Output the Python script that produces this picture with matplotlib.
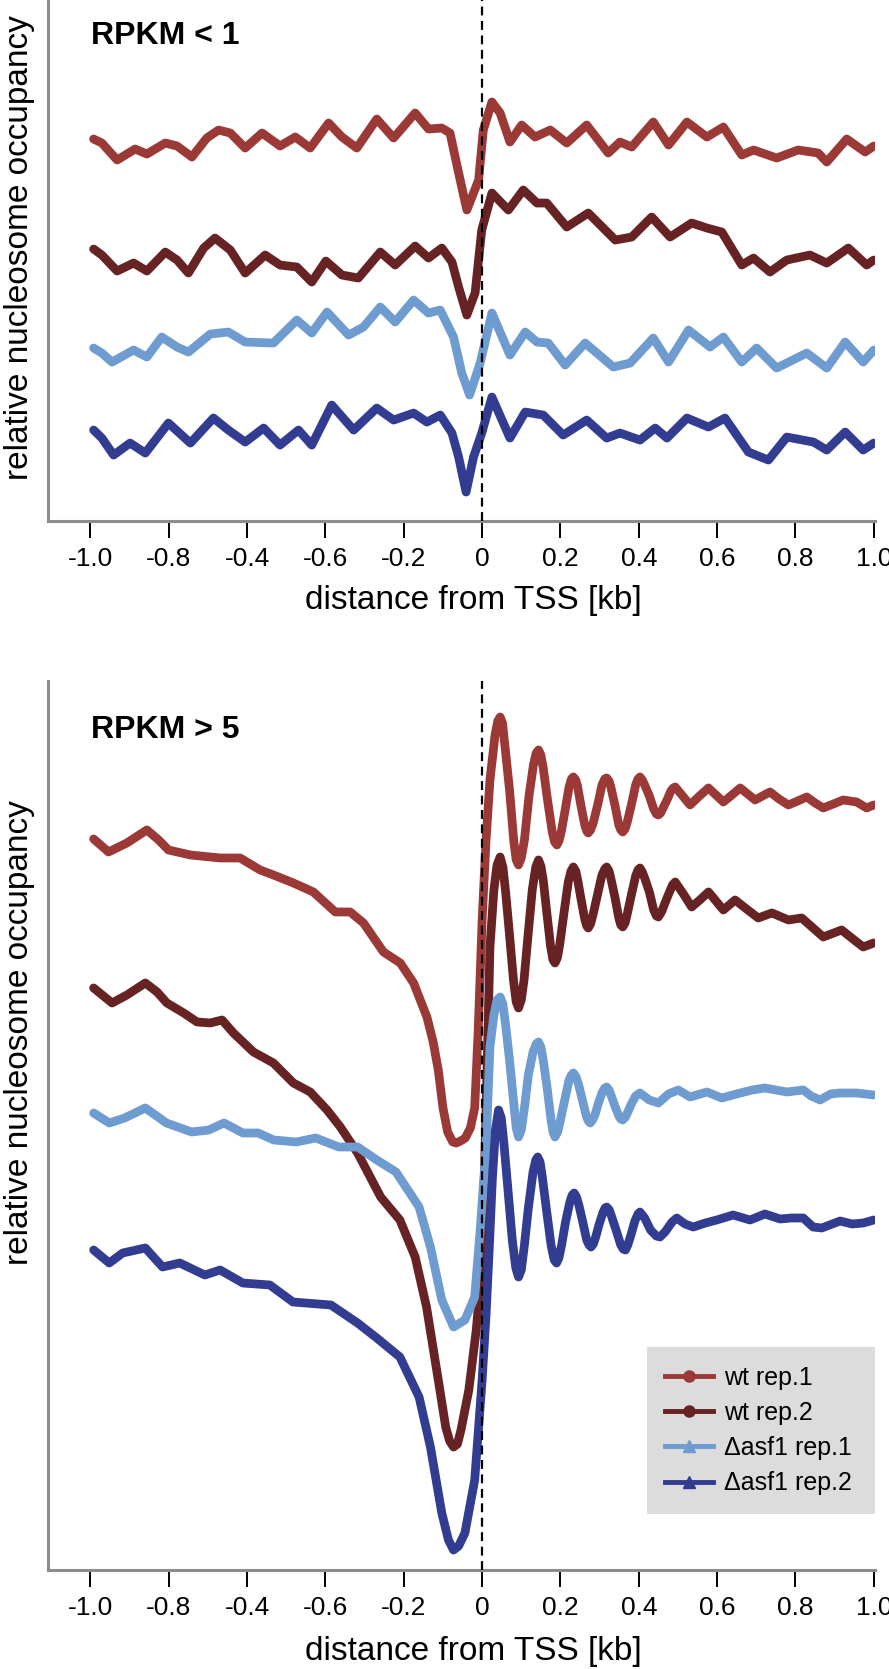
import matplotlib
matplotlib.use("Agg")
import matplotlib.pyplot as plt
from matplotlib.lines import Line2D

plt.rcParams['font.family'] = ['Liberation Sans', 'DejaVu Sans']

# series names and colours
nombres = ['wt rep.1', 'wt rep.2', 'Δasf1 rep.1', 'Δasf1 rep.2']
colores = ['#9b3937', '#672323', '#6e9bd0', '#323c91']
marcadores = ['o', 'o', '^', '^']

# x ticks (labels as printed in the original figure)
ticks = [-1.0, -0.8, -0.6, -0.4, -0.2, 0.0, 0.2, 0.4, 0.6, 0.8, 1.0]
tick_labels = ['-1.0', '-0.8', '-0.4', '-0.6', '-0.2', '0', '0.2', '0.4', '0.6', '0.8', '1.0']

# ---- RPKM < 1 (distance from TSS in kb, occupancy in arbitrary offset units)
up_x_wt1 = [-0.992, -0.971, -0.932, -0.886, -0.856, -0.809, -0.779, -0.741, -0.703, -0.673,
            -0.643, -0.605, -0.562, -0.516, -0.477, -0.439, -0.392, -0.358, -0.320, -0.269,
            -0.226, -0.171, -0.137, -0.103, -0.082, -0.060, -0.039, -0.009, 0.003, 0.025,
            0.046, 0.071, 0.101, 0.135, 0.174, 0.216, 0.267, 0.322, 0.352, 0.382,
            0.437, 0.476, 0.523, 0.574, 0.616, 0.663, 0.693, 0.752, 0.807, 0.858,
            0.880, 0.931, 0.978, 1.0]
up_y_wt1 = [3.82, 3.78, 3.61, 3.72, 3.67, 3.78, 3.75, 3.64, 3.83, 3.91,
            3.88, 3.73, 3.88, 3.75, 3.84, 3.73, 3.98, 3.84, 3.73, 4.02,
            3.83, 4.08, 3.92, 3.93, 3.88, 3.48, 3.11, 3.41, 3.91, 4.19,
            4.08, 3.79, 3.96, 3.84, 3.91, 3.78, 3.96, 3.68, 3.79, 3.74,
            3.99, 3.76, 3.99, 3.84, 3.94, 3.66, 3.71, 3.63, 3.71, 3.68,
            3.59, 3.82, 3.69, 3.75]

up_x_wt2 = [-0.992, -0.971, -0.932, -0.890, -0.856, -0.809, -0.779, -0.750, -0.711, -0.682,
            -0.643, -0.605, -0.554, -0.516, -0.473, -0.435, -0.399, -0.358, -0.316, -0.260,
            -0.222, -0.171, -0.137, -0.103, -0.077, -0.060, -0.039, -0.018, -0.001, 0.025,
            0.067, 0.105, 0.140, 0.165, 0.216, 0.271, 0.340, 0.382, 0.433, 0.480,
            0.535, 0.574, 0.612, 0.663, 0.693, 0.735, 0.778, 0.837, 0.880, 0.935,
            0.982, 1.0]
up_y_wt2 = [2.72, 2.66, 2.50, 2.58, 2.50, 2.69, 2.61, 2.48, 2.73, 2.83,
            2.71, 2.48, 2.66, 2.56, 2.54, 2.39, 2.60, 2.46, 2.43, 2.69,
            2.56, 2.75, 2.63, 2.73, 2.59, 2.34, 2.06, 2.28, 2.91, 3.28,
            3.11, 3.31, 3.18, 3.18, 2.94, 3.08, 2.81, 2.84, 3.04, 2.84,
            2.98, 2.93, 2.89, 2.56, 2.63, 2.49, 2.61, 2.66, 2.58, 2.73,
            2.56, 2.61]

up_x_ko1 = [-0.992, -0.971, -0.945, -0.890, -0.856, -0.818, -0.779, -0.750, -0.694, -0.648,
            -0.605, -0.533, -0.473, -0.435, -0.396, -0.341, -0.303, -0.260, -0.222, -0.175,
            -0.137, -0.107, -0.073, -0.052, -0.032, -0.005, 0.025, 0.071, 0.110, 0.140,
            0.169, 0.212, 0.263, 0.335, 0.378, 0.437, 0.476, 0.527, 0.582, 0.616,
            0.663, 0.701, 0.752, 0.829, 0.880, 0.927, 0.973, 1.0]
up_y_ko1 = [1.73, 1.68, 1.59, 1.71, 1.64, 1.84, 1.74, 1.69, 1.87, 1.89,
            1.79, 1.78, 2.01, 1.88, 2.09, 1.86, 1.94, 2.14, 1.99, 2.21,
            2.08, 2.11, 1.84, 1.48, 1.26, 1.58, 2.08, 1.66, 1.89, 1.79,
            1.78, 1.56, 1.78, 1.54, 1.58, 1.83, 1.59, 1.91, 1.74, 1.84,
            1.59, 1.73, 1.53, 1.68, 1.53, 1.79, 1.59, 1.71]

up_x_ko2 = [-0.992, -0.971, -0.941, -0.899, -0.860, -0.801, -0.745, -0.686, -0.648, -0.605,
            -0.558, -0.516, -0.469, -0.435, -0.384, -0.328, -0.269, -0.226, -0.175, -0.141,
            -0.107, -0.077, -0.060, -0.041, -0.022, -0.001, 0.025, 0.071, 0.110, 0.156,
            0.207, 0.267, 0.318, 0.352, 0.403, 0.442, 0.472, 0.523, 0.578, 0.620,
            0.680, 0.731, 0.778, 0.846, 0.880, 0.927, 0.973, 1.0]
up_y_ko2 = [0.91, 0.83, 0.66, 0.78, 0.68, 0.98, 0.78, 1.03, 0.91, 0.79,
            0.93, 0.76, 0.91, 0.76, 1.16, 0.91, 1.13, 1.01, 1.08, 0.99,
            1.06, 0.88, 0.64, 0.29, 0.64, 0.88, 1.24, 0.83, 1.09, 1.06,
            0.86, 1.01, 0.83, 0.88, 0.81, 0.93, 0.83, 1.03, 0.94, 1.03,
            0.69, 0.61, 0.84, 0.79, 0.71, 0.89, 0.71, 0.78]

# ---- RPKM > 5
low_x_wt1 = [-0.992, -0.954, -0.907, -0.856, -0.826, -0.801, -0.745, -0.669, -0.618, -0.567,
             -0.533, -0.482, -0.431, -0.375, -0.337, -0.303, -0.252, -0.209, -0.175, -0.141,
             -0.125, -0.112, -0.100, -0.088, -0.075, -0.066, -0.055, -0.043, -0.030, -0.019,
             -0.010, 0.0, 0.010, 0.020, 0.033, 0.040, 0.046, 0.052, 0.058, 0.070,
             0.081, 0.087, 0.093, 0.100, 0.108, 0.120, 0.131, 0.138, 0.144, 0.150,
             0.156, 0.167, 0.179, 0.185, 0.191, 0.197, 0.203, 0.212, 0.222, 0.228,
             0.233, 0.239, 0.243, 0.252, 0.262, 0.267, 0.271, 0.277, 0.283, 0.295,
             0.306, 0.313, 0.318, 0.324, 0.328, 0.339, 0.349, 0.354, 0.359, 0.365,
             0.370, 0.381, 0.392, 0.398, 0.403, 0.409, 0.415, 0.427, 0.438, 0.445,
             0.450, 0.456, 0.462, 0.472, 0.482, 0.488, 0.493, 0.512, 0.531, 0.555,
             0.578, 0.597, 0.616, 0.638, 0.659, 0.678, 0.697, 0.716, 0.735, 0.758,
             0.782, 0.806, 0.829, 0.850, 0.871, 0.897, 0.922, 0.956, 0.982, 1.0]
low_y_wt1 = [7.31, 7.18, 7.27, 7.40, 7.30, 7.20, 7.15, 7.12, 7.12, 7.00,
             6.95, 6.87, 6.78, 6.58, 6.58, 6.47, 6.18, 6.07, 5.87, 5.53,
             5.28, 5.00, 4.62, 4.38, 4.28, 4.27, 4.29, 4.32, 4.42, 4.62,
             5.40, 6.50, 7.30, 7.90, 8.35, 8.49, 8.53, 8.47, 8.25, 7.80,
             7.28, 7.10, 7.05, 7.12, 7.30, 7.75, 8.05, 8.17, 8.20, 8.15,
             8.02, 7.70, 7.38, 7.28, 7.25, 7.30, 7.40, 7.60, 7.83, 7.91,
             7.93, 7.90, 7.85, 7.65, 7.45, 7.39, 7.37, 7.40, 7.46, 7.65,
             7.85, 7.91, 7.92, 7.89, 7.84, 7.65, 7.45, 7.40, 7.38, 7.41,
             7.47, 7.65, 7.85, 7.91, 7.93, 7.90, 7.85, 7.74, 7.61, 7.56,
             7.55, 7.57, 7.62, 7.70, 7.79, 7.82, 7.83, 7.74, 7.65, 7.74,
             7.82, 7.75, 7.68, 7.75, 7.82, 7.76, 7.70, 7.74, 7.78, 7.71,
             7.65, 7.69, 7.73, 7.67, 7.62, 7.66, 7.70, 7.68, 7.62, 7.65]

low_x_wt2 = [-0.992, -0.945, -0.907, -0.860, -0.830, -0.805, -0.762, -0.728, -0.694, -0.664,
             -0.635, -0.584, -0.533, -0.482, -0.439, -0.396, -0.362, -0.318, -0.259, -0.210,
             -0.171, -0.142, -0.112, -0.093, -0.083, -0.073, -0.063, -0.054, -0.034, -0.015,
             0.0, 0.010, 0.020, 0.030, 0.038, 0.046, 0.053, 0.060, 0.070, 0.080,
             0.087, 0.093, 0.100, 0.107, 0.118, 0.128, 0.137, 0.144, 0.150, 0.156,
             0.165, 0.175, 0.181, 0.186, 0.192, 0.198, 0.210, 0.220, 0.227, 0.233,
             0.239, 0.244, 0.252, 0.262, 0.267, 0.271, 0.277, 0.283, 0.295, 0.306,
             0.313, 0.318, 0.324, 0.329, 0.339, 0.349, 0.354, 0.359, 0.365, 0.370,
             0.381, 0.392, 0.398, 0.403, 0.409, 0.415, 0.427, 0.438, 0.445, 0.450,
             0.458, 0.472, 0.486, 0.493, 0.514, 0.535, 0.556, 0.578, 0.597, 0.616,
             0.646, 0.675, 0.705, 0.740, 0.782, 0.816, 0.845, 0.871, 0.918, 0.950,
             0.973, 1.0]
low_y_wt2 = [5.82, 5.67, 5.75, 5.87, 5.78, 5.67, 5.57, 5.48, 5.47, 5.50,
             5.37, 5.18, 5.07, 4.87, 4.78, 4.60, 4.43, 4.17, 3.73, 3.50,
             3.13, 2.63, 1.90, 1.43, 1.29, 1.23, 1.26, 1.40, 1.80, 2.40,
             3.07, 4.60, 6.23, 6.80, 7.05, 7.13, 7.03, 6.78, 6.35, 5.90,
             5.68, 5.62, 5.70, 5.90, 6.38, 6.80, 7.03, 7.10, 7.04, 6.90,
             6.58, 6.23, 6.10, 6.07, 6.12, 6.25, 6.60, 6.88, 6.99, 7.03,
             6.99, 6.90, 6.72, 6.51, 6.44, 6.42, 6.46, 6.55, 6.76, 6.95,
             7.01, 7.03, 6.99, 6.91, 6.73, 6.52, 6.45, 6.43, 6.47, 6.55,
             6.75, 6.94, 7.00, 7.02, 6.98, 6.92, 6.78, 6.60, 6.54, 6.53,
             6.58, 6.72, 6.85, 6.88, 6.76, 6.63, 6.70, 6.78, 6.69, 6.60,
             6.70, 6.61, 6.52, 6.57, 6.50, 6.52, 6.42, 6.33, 6.40, 6.30,
             6.23, 6.27]

low_x_ko1 = [-0.992, -0.952, -0.913, -0.860, -0.806, -0.742, -0.698, -0.659, -0.611, -0.572,
             -0.532, -0.474, -0.425, -0.366, -0.318, -0.269, -0.220, -0.161, -0.132, -0.103,
             -0.073, -0.044, -0.019, -0.005, 0.010, 0.020, 0.030, 0.038, 0.046, 0.053,
             0.060, 0.070, 0.080, 0.087, 0.093, 0.100, 0.108, 0.118, 0.130, 0.138,
             0.144, 0.150, 0.156, 0.166, 0.176, 0.181, 0.186, 0.193, 0.200, 0.212,
             0.222, 0.228, 0.233, 0.240, 0.246, 0.256, 0.266, 0.271, 0.276, 0.282,
             0.288, 0.297, 0.307, 0.313, 0.318, 0.324, 0.329, 0.339, 0.349, 0.354,
             0.359, 0.366, 0.372, 0.381, 0.392, 0.403, 0.427, 0.450, 0.476, 0.501,
             0.531, 0.574, 0.612, 0.659, 0.690, 0.722, 0.750, 0.778, 0.820, 0.840,
             0.863, 0.890, 0.914, 0.956, 1.0]
low_y_ko1 = [4.57, 4.47, 4.52, 4.62, 4.47, 4.38, 4.40, 4.47, 4.37, 4.37,
             4.30, 4.28, 4.32, 4.23, 4.23, 4.10, 3.98, 3.63, 3.23, 2.70,
             2.43, 2.50, 2.73, 3.40, 4.23, 5.23, 5.55, 5.70, 5.73, 5.66,
             5.45, 5.10, 4.70, 4.42, 4.33, 4.40, 4.62, 4.95, 5.18, 5.26,
             5.28, 5.23, 5.10, 4.82, 4.50, 4.38, 4.33, 4.38, 4.50, 4.72,
             4.90, 4.95, 4.97, 4.93, 4.86, 4.70, 4.54, 4.49, 4.47, 4.50,
             4.55, 4.67, 4.78, 4.82, 4.83, 4.80, 4.75, 4.64, 4.54, 4.51,
             4.50, 4.53, 4.58, 4.66, 4.74, 4.77, 4.70, 4.67, 4.76, 4.80,
             4.73, 4.78, 4.72, 4.77, 4.80, 4.82, 4.80, 4.78, 4.80, 4.74,
             4.70, 4.76, 4.77, 4.77, 4.75]

low_x_ko2 = [-0.992, -0.952, -0.918, -0.860, -0.816, -0.772, -0.708, -0.669, -0.611, -0.542,
             -0.483, -0.386, -0.318, -0.269, -0.210, -0.161, -0.132, -0.103, -0.086, -0.073,
             -0.060, -0.044, -0.019, 0.0, 0.010, 0.018, 0.026, 0.034, 0.042, 0.049,
             0.056, 0.066, 0.077, 0.086, 0.093, 0.100, 0.108, 0.118, 0.130, 0.137,
             0.142, 0.148, 0.154, 0.165, 0.176, 0.184, 0.190, 0.196, 0.203, 0.213,
             0.224, 0.230, 0.235, 0.241, 0.247, 0.257, 0.267, 0.273, 0.278, 0.284,
             0.290, 0.299, 0.309, 0.314, 0.318, 0.325, 0.331, 0.342, 0.354, 0.360,
             0.366, 0.372, 0.380, 0.390, 0.398, 0.403, 0.415, 0.430, 0.445, 0.454,
             0.467, 0.485, 0.497, 0.518, 0.539, 0.570, 0.599, 0.641, 0.684, 0.722,
             0.761, 0.790, 0.820, 0.845, 0.867, 0.914, 0.945, 0.973, 1.0]
low_y_ko2 = [3.20, 3.07, 3.17, 3.22, 3.03, 3.07, 2.95, 3.00, 2.87, 2.85,
             2.68, 2.65, 2.47, 2.32, 2.13, 1.73, 1.23, 0.57, 0.30, 0.20,
             0.24, 0.37, 0.90, 1.90, 2.55, 3.20, 3.90, 4.40, 4.60, 4.52,
             4.25, 3.80, 3.30, 3.02, 2.93, 3.00, 3.25, 3.62, 3.98, 4.10,
             4.13, 4.08, 3.92, 3.58, 3.25, 3.10, 3.07, 3.12, 3.25, 3.48,
             3.68, 3.75, 3.77, 3.73, 3.65, 3.48, 3.30, 3.25, 3.23, 3.26,
             3.33, 3.46, 3.58, 3.62, 3.63, 3.60, 3.53, 3.40, 3.25, 3.21,
             3.20, 3.25, 3.35, 3.49, 3.56, 3.58, 3.52, 3.40, 3.34, 3.33,
             3.38, 3.48, 3.52, 3.46, 3.43, 3.47, 3.50, 3.55, 3.50, 3.56,
             3.51, 3.52, 3.52, 3.43, 3.42, 3.49, 3.46, 3.47, 3.50]


def dibujar_panel(ax, xs, ys, titulo, ytop, label_y, xlabel_y, title_y):
    for x, y, c in zip(xs, ys, colores):
        ax.plot(x, y, color=c, lw=6.3, solid_joinstyle='round', solid_capstyle='round')
    ax.axvline(0, color='black', lw=1.6, ls=(0, (4, 2.5)), zorder=5)
    ax.set_xlim(-1.1085, 1.0026)
    ax.set_ylim(0, ytop)
    ax.set_yticks([])
    ax.set_xticks(ticks)
    ax.set_xticklabels(tick_labels, family=['Liberation Sans Narrow', 'Liberation Sans'], fontsize=19)
    ax.tick_params(axis='x', direction='out', length=12.5, width=1.4, color='black', pad=6)
    for s in ['top', 'right']:
        ax.spines[s].set_visible(False)
    for s in ['left', 'bottom']:
        ax.spines[s].set_color('#8c8c8c')
        ax.spines[s].set_linewidth(2.2)
    ax.set_xlabel('distance from TSS [kb]', fontsize=24)
    ax.xaxis.label.set_va('baseline')
    ax.xaxis.set_label_coords(0.514, xlabel_y)
    ax.set_ylabel('relative nucleosome occupancy', fontsize=24)
    ax.yaxis.label.set_va('center')
    ax.yaxis.set_label_coords(-0.035, label_y)
    ax.text(0.052, title_y, titulo, transform=ax.transAxes, fontsize=23,
            fontweight='bold', va='center', ha='left')


fig = plt.figure(figsize=(8.89, 16.69), dpi=100)
ax1 = fig.add_axes([0.054, 0.6878, 0.930, 0.3122])
ax2 = fig.add_axes([0.054, 0.0593, 0.930, 0.5327])

dibujar_panel(ax1, [up_x_wt1, up_x_wt2, up_x_ko1, up_x_ko2],
              [up_y_wt1, up_y_wt2, up_y_ko1, up_y_ko2],
              'RPKM < 1', 5.21, 0.525, -0.169, 0.931)
dibujar_panel(ax2, [low_x_wt1, low_x_wt2, low_x_ko1, low_x_ko2],
              [low_y_wt1, low_y_wt2, low_y_ko1, low_y_ko2],
              'RPKM > 5', 8.89, 0.605, -0.1012, 0.945)

handles = [Line2D([], [], color=c, lw=3.5, marker=m, markersize=8)
           for c, m in zip(colores, marcadores)]
ax2.legend(handles, nombres, loc='lower left', bbox_to_anchor=(0.724, 0.063, 0.2757, 0.1845),
           mode='expand', frameon=True, facecolor='#dcdcdc', edgecolor='none', fancybox=False,
           framealpha=1, fontsize=18, handlelength=1.9, handletextpad=0.45,
           labelspacing=0.45, borderpad=0.75, borderaxespad=0)

plt.savefig('out.png', dpi=100)
